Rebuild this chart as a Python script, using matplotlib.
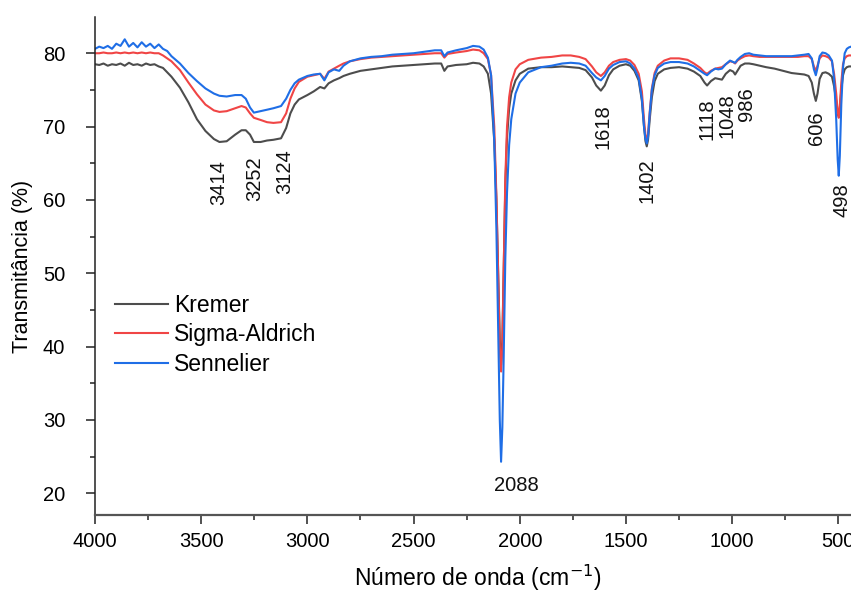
import matplotlib
matplotlib.use("Agg")
import matplotlib.pyplot as plt
from matplotlib.ticker import MultipleLocator

plt.rcParams['font.family'] = ['Liberation Sans', 'DejaVu Sans']

# ---------------- data ----------------
wavenumber = [
    4000, 3980, 3960, 3940, 3920, 3900, 3880, 3860, 3840, 3820, 3800, 3780, 3760, 3740, 3720, 3700, 3680, 3660, 3640,
    3600, 3560, 3520, 3480, 3440, 3414, 3380, 3340, 3310, 3290, 3270, 3252, 3220, 3190, 3160, 3124, 3100, 3080, 3060,
    3040, 3000, 2970, 2940, 2920, 2900, 2875, 2850, 2830, 2800, 2750, 2700, 2650, 2600, 2500, 2400, 2370, 2355, 2340,
    2300, 2250, 2220, 2190, 2170, 2150, 2135, 2120, 2110, 2100, 2094, 2088, 2082, 2076, 2068, 2060, 2050, 2040, 2020,
    2000, 1960, 1900, 1850, 1800, 1760, 1720, 1690, 1660, 1640, 1618, 1600, 1580, 1560, 1530, 1500, 1480, 1460, 1440,
    1425, 1415, 1408, 1402, 1396, 1388, 1378, 1365, 1350, 1320, 1290, 1250, 1210, 1180, 1150, 1130, 1118, 1100, 1080,
    1065, 1048, 1030, 1010, 995, 986, 975, 960, 940, 920, 900, 870, 840, 800, 760, 720, 690, 660, 640, 625, 615, 606,
    598, 588, 575, 560, 545, 530, 520, 510, 503, 498, 493, 486, 478, 470, 460, 450, 440, 425, 400,
]

kremer = [
    78.5, 78.4, 78.6, 78.3, 78.5, 78.4, 78.6, 78.3, 78.7, 78.4, 78.5, 78.3, 78.6, 78.4, 78.5, 78.2, 78.0, 77.4, 76.8,
    75.3, 73.3, 71.0, 69.4, 68.3, 67.9, 68.0, 68.9, 69.5, 69.5, 68.9, 67.9, 67.9, 68.1, 68.2, 68.4, 69.8, 71.8, 73.0,
    73.7, 74.3, 74.8, 75.4, 75.2, 75.9, 76.3, 76.6, 76.9, 77.2, 77.6, 77.8, 78.0, 78.2, 78.4, 78.6, 78.6, 77.6, 78.2,
    78.4, 78.5, 78.7, 78.6, 78.2, 77.2, 74.5, 68.0, 60.0, 48.0, 41.0, 37.5, 41.0, 50.0, 62.0, 68.5, 72.5, 74.5, 76.3,
    77.2, 77.9, 78.1, 78.1, 78.2, 78.1, 78.0, 77.7, 76.7, 75.6, 74.9, 75.6, 77.0, 77.8, 78.3, 78.5, 78.3, 77.6, 76.3,
    73.5, 70.0, 68.0, 67.3, 68.2, 71.0, 74.0, 76.2, 77.2, 77.8, 78.0, 78.1, 77.9, 77.5, 76.9, 76.0, 75.6, 76.2, 76.6,
    76.5, 76.4, 77.2, 77.7, 77.5, 77.1, 77.6, 78.3, 78.6, 78.6, 78.5, 78.3, 78.1, 77.9, 77.6, 77.3, 77.2, 77.1, 76.9,
    76.0, 74.5, 73.5, 74.5, 76.5, 77.3, 77.4, 77.2, 76.8, 75.5, 73.5, 71.8, 71.4, 72.5, 75.0, 77.0, 77.8, 78.1, 78.2,
    78.2, 78.2, 78.2,
]

sigma_aldrich = [
    80.0, 80.0, 80.1, 80.0, 80.0, 80.1, 80.0, 80.1, 80.0, 80.1, 80.0, 80.1, 80.0, 80.1, 80.0, 80.0, 79.7, 79.3, 78.9,
    77.7, 76.0, 74.4, 73.0, 72.2, 72.0, 72.1, 72.5, 72.8, 72.6, 71.8, 71.2, 70.9, 70.6, 70.5, 70.6, 71.8, 73.8, 75.2,
    76.1, 76.8, 77.0, 77.2, 76.5, 77.5, 77.9, 78.3, 78.6, 78.9, 79.2, 79.4, 79.5, 79.6, 79.8, 80.0, 80.0, 79.4, 79.9,
    80.1, 80.3, 80.5, 80.4, 80.0, 79.2, 77.0, 70.0, 60.5, 47.5, 40.0, 36.6, 40.0, 50.0, 63.0, 70.0, 74.0, 76.0, 77.8,
    78.5, 79.1, 79.4, 79.5, 79.7, 79.7, 79.5, 79.2, 78.2, 77.4, 76.9, 77.4, 78.3, 78.8, 79.1, 79.2, 79.0, 78.4, 77.2,
    74.8, 71.0, 68.8, 68.2, 69.0, 72.0, 75.2, 77.3, 78.3, 79.0, 79.3, 79.3, 79.1, 78.6, 78.0, 77.4, 77.2, 77.6, 77.9,
    78.0, 78.1, 78.5, 78.9, 78.8, 78.6, 79.0, 79.3, 79.6, 79.7, 79.6, 79.5, 79.5, 79.5, 79.5, 79.5, 79.5, 79.6, 79.6,
    79.2, 78.2, 77.6, 78.3, 79.3, 79.7, 79.6, 79.4, 78.9, 77.2, 74.5, 72.0, 71.2, 72.8, 76.0, 78.5, 79.3, 79.6, 79.7,
    79.7, 79.7, 79.7,
]

sennelier = [
    80.6, 80.9, 80.7, 81.0, 80.6, 81.3, 81.0, 81.9, 80.9, 81.4, 80.8, 81.5, 80.9, 81.3, 80.7, 81.2, 80.6, 80.3, 79.6,
    78.6, 77.3, 76.2, 75.2, 74.5, 74.2, 74.1, 74.3, 74.3, 73.8, 72.6, 71.9, 72.1, 72.3, 72.5, 72.8, 73.8, 75.0, 75.9,
    76.4, 76.9, 77.1, 77.2, 76.3, 77.4, 77.8, 77.6, 78.3, 78.9, 79.3, 79.5, 79.6, 79.8, 80.0, 80.4, 80.4, 79.6, 80.1,
    80.4, 80.7, 81.0, 80.9, 80.5, 79.4, 77.0, 68.0, 56.0, 40.0, 30.0, 24.3, 29.0, 38.0, 52.0, 61.0, 67.5, 71.0, 74.5,
    76.0, 77.4, 78.1, 78.3, 78.6, 78.7, 78.6, 78.3, 77.3, 76.7, 76.3, 76.9, 77.9, 78.4, 78.8, 78.9, 78.6, 77.9, 76.6,
    73.8, 70.0, 68.3, 67.7, 68.6, 71.8, 75.0, 77.0, 78.0, 78.6, 78.8, 78.8, 78.6, 78.2, 77.6, 77.2, 77.0, 77.5, 77.9,
    77.8, 77.9, 78.5, 79.0, 78.8, 78.7, 79.1, 79.5, 79.9, 80.0, 79.8, 79.7, 79.6, 79.6, 79.6, 79.6, 79.7, 79.8, 79.9,
    79.3, 77.8, 77.0, 78.0, 79.6, 80.1, 80.0, 79.7, 79.0, 76.5, 71.0, 65.5, 63.3, 66.0, 73.0, 78.0, 80.0, 80.6, 80.8,
    80.9, 80.8, 80.8,
]

series_names = ["Kremer", "Sigma-Aldrich", "Sennelier"]
series_colors = ["#4d4d4d", "#f04545", "#1f6ee6"]

peak_labels = ["3414", "3252", "3124", "1618", "1402", "1118", "1048", "986", "606", "498"]
peak_label_x = [3419, 3247, 3105, 1609, 1402, 1120, 1026, 931, 602, 484]
peak_label_y = [62.3, 62.9, 63.8, 70.0, 62.6, 71.0, 71.5, 73.1, 69.8, 60.0]

main_peak_label = "2088"
main_peak_x = 2014
main_peak_y = 21.1

x_ticks = [4000, 3500, 3000, 2500, 2000, 1500, 1000, 500]
y_ticks = [20, 30, 40, 50, 60, 70, 80]

# ---------------- figure ----------------
W, H = 851, 592
fig = plt.figure(figsize=(W / 100, H / 100), dpi=100)
ax_left = 95 / W
ax_bottom = (H - 515) / H
ax_width = (3600 * 0.21238) / W
ax_height = (515 - 17.3) / H
ax = fig.add_axes([ax_left, ax_bottom, ax_width, ax_height])

for vals, name, col in zip([kremer, sigma_aldrich, sennelier], series_names, series_colors):
    ax.plot(wavenumber, vals, color=col, lw=1.5, label=name)

ax.set_xlim(4000, 400)
ax.set_ylim(17.04, 84.9)

ax.set_xticks(x_ticks)
ax.set_yticks(y_ticks)
ax.xaxis.set_minor_locator(MultipleLocator(250))
ax.yaxis.set_minor_locator(MultipleLocator(5))

fs = 14.5
fs_big = 16.5
ax.tick_params(axis='both', which='major', direction='out', length=6.5, width=1.1,
               labelsize=fs, color='#222222')
ax.tick_params(axis='both', which='minor', direction='out', length=3.3, width=1.1, color='#222222')
ax.tick_params(axis='y', which='major', pad=15)
ax.tick_params(axis='x', which='major', pad=6)

ax.spines['top'].set_visible(False)
ax.spines['right'].set_visible(False)
ax.spines['left'].set_linewidth(1.1)
ax.spines['left'].set_color('#222222')
ax.spines['bottom'].set_linewidth(1.6)
ax.spines['bottom'].set_color('#555555')

ax.set_xlabel("Número de onda (cm$^{-1}$)", fontsize=fs_big)
ax.set_ylabel("Transmitância (%)", fontsize=15.5)
ax.xaxis.set_label_coords(0.5, -0.097)
ax.yaxis.set_label_coords(-0.081, 0.5)

for lab, lx, ly in zip(peak_labels, peak_label_x, peak_label_y):
    ax.text(lx, ly, lab, rotation=90, ha='center', va='center', fontsize=fs, color='#111111')
ax.text(main_peak_x, main_peak_y, main_peak_label, ha='center', va='center', fontsize=fs, color='#111111')

leg = ax.legend(loc='upper left', bbox_to_anchor=(0.026, 0.445), frameon=False, fontsize=fs_big,
                handlelength=2.3, handletextpad=0.3, labelspacing=0.3, borderpad=0, borderaxespad=0)

fig.savefig("out.png", dpi=100)
